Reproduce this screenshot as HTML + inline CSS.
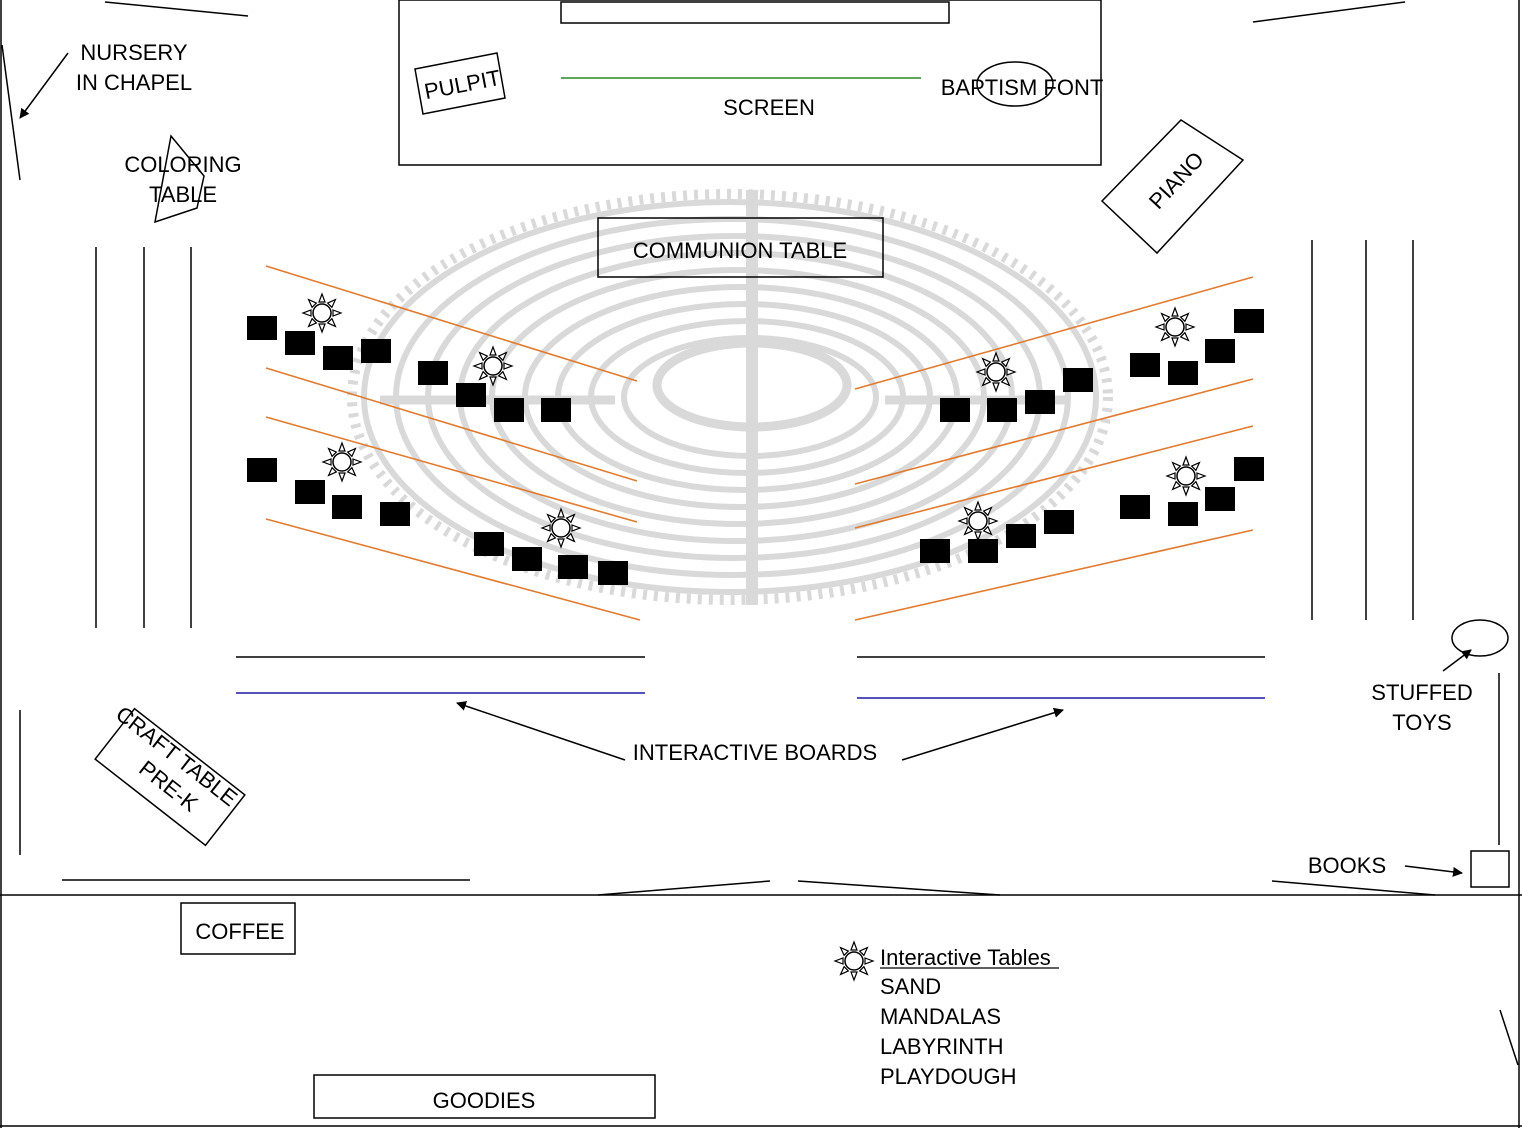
<!DOCTYPE html>
<html><head><meta charset="utf-8"><style>
html,body{margin:0;padding:0;background:#fff}
svg{display:block}
text{font-family:"Liberation Sans",sans-serif;font-size:22px;fill:#000}
</style></head><body>
<svg width="1522" height="1128" viewBox="0 0 1522 1128" xmlns="http://www.w3.org/2000/svg">
<defs>
<marker id="ah" markerWidth="10" markerHeight="10" refX="9" refY="5" orient="auto" markerUnits="userSpaceOnUse"><path d="M0,0 L10,5 L0,10 Z" fill="#000"/></marker>
<g id="sun">
<circle r="9" fill="#fff" stroke="#000" stroke-width="1.5"/>
<g fill="#fff" stroke="#000" stroke-width="1.2">
<path d="M-3,-11 L0,-19 L3,-11 Z"/><path d="M-3,-11 L0,-19 L3,-11 Z" transform="rotate(45)"/>
<path d="M-3,-11 L0,-19 L3,-11 Z" transform="rotate(90)"/><path d="M-3,-11 L0,-19 L3,-11 Z" transform="rotate(135)"/>
<path d="M-3,-11 L0,-19 L3,-11 Z" transform="rotate(180)"/><path d="M-3,-11 L0,-19 L3,-11 Z" transform="rotate(225)"/>
<path d="M-3,-11 L0,-19 L3,-11 Z" transform="rotate(270)"/><path d="M-3,-11 L0,-19 L3,-11 Z" transform="rotate(315)"/>
</g></g>
</defs>
<!-- labyrinth -->
<g fill="none" stroke="#d9d9d9">
<ellipse cx="730" cy="397" rx="378" ry="203" stroke-width="10" stroke-dasharray="4 7"/>
<ellipse cx="730" cy="397" rx="366" ry="195" stroke-width="6"/>
<ellipse cx="732" cy="397" rx="336" ry="178" stroke-width="6"/>
<ellipse cx="734" cy="397" rx="306" ry="161" stroke-width="6"/>
<ellipse cx="736" cy="397" rx="276" ry="144" stroke-width="6"/>
<ellipse cx="738" cy="397" rx="246" ry="127" stroke-width="6"/>
<ellipse cx="741" cy="397" rx="216" ry="110" stroke-width="6"/>
<ellipse cx="744" cy="397" rx="186" ry="93" stroke-width="6"/>
<ellipse cx="747" cy="397" rx="156" ry="76" stroke-width="6"/>
<ellipse cx="750" cy="397" rx="126" ry="59" stroke-width="6"/>
<ellipse cx="752" cy="385" rx="95" ry="42" stroke-width="9"/>
<line x1="752" y1="190" x2="752" y2="605" stroke-width="12"/>
<line x1="380" y1="400" x2="615" y2="400" stroke-width="9"/>
<line x1="885" y1="400" x2="1070" y2="400" stroke-width="9"/>
</g>
<!-- room outline -->
<g stroke="#000" stroke-width="1.5" fill="none">
<line x1="1" y1="0" x2="1" y2="1128"/>
<line x1="1519" y1="0" x2="1519" y2="1128"/>
<line x1="0" y1="1126" x2="1522" y2="1126"/>
<line x1="0" y1="895" x2="1522" y2="895"/>
<line x1="105" y1="2" x2="248" y2="16"/>
<line x1="1253" y1="22" x2="1405" y2="2"/>
<line x1="2" y1="45" x2="20" y2="180"/>
<rect x="399" y="0" width="702" height="165"/>
<rect x="561" y="2" width="388" height="21"/>
<polygon points="415,69 497,53 505,98 423,114"/>
<ellipse cx="1015" cy="84" rx="38" ry="22"/>
<polygon points="1181,120 1243,160 1157,253 1102,201"/>
<rect x="598" y="218" width="285" height="59"/>
<polygon points="171,136 204,176 197,208 155,222"/>
<line x1="96" y1="247" x2="96" y2="628"/><line x1="144" y1="247" x2="144" y2="628"/><line x1="191" y1="247" x2="191" y2="628"/>
<line x1="1312" y1="240" x2="1312" y2="620"/><line x1="1366" y1="240" x2="1366" y2="620"/><line x1="1413" y1="240" x2="1413" y2="620"/>
<line x1="236" y1="657" x2="645" y2="657"/>
<line x1="857" y1="657" x2="1265" y2="657"/>
<line x1="20" y1="710" x2="20" y2="855"/>
<line x1="62" y1="880" x2="470" y2="880"/>
<line x1="598" y1="895" x2="770" y2="881"/>
<line x1="798" y1="881" x2="1000" y2="895"/>
<line x1="1272" y1="881" x2="1435" y2="895"/>
<ellipse cx="1480" cy="638" rx="28" ry="18"/>
<line x1="1499" y1="673" x2="1499" y2="845"/>
<rect x="1471" y="851" width="38" height="36"/>
<rect x="181" y="903" width="114" height="51"/>
<rect x="314" y="1075" width="341" height="43"/>
<line x1="1500" y1="1010" x2="1518" y2="1065"/>
<g transform="translate(170,777) rotate(38)"><rect x="-70" y="-32" width="140" height="64"/></g>
<line x1="68" y1="53" x2="20" y2="118" marker-end="url(#ah)"/>
<line x1="625" y1="760" x2="457" y2="703" marker-end="url(#ah)"/>
<line x1="902" y1="760" x2="1063" y2="710" marker-end="url(#ah)"/>
<line x1="1443" y1="671" x2="1471" y2="650" marker-end="url(#ah)"/>
<line x1="1405" y1="866" x2="1462" y2="873" marker-end="url(#ah)"/>
</g>
<line x1="561" y1="78" x2="921" y2="78" stroke="#2a8a2a" stroke-width="1.5"/>
<line x1="236" y1="693" x2="645" y2="693" stroke="#1a1aa0" stroke-width="1.5"/>
<line x1="857" y1="698" x2="1265" y2="698" stroke="#1a1aa0" stroke-width="1.5"/>
<g stroke="#e07b30" stroke-width="1.6">
<line x1="266" y1="266" x2="637" y2="381"/><line x1="266" y1="368" x2="637" y2="481"/>
<line x1="266" y1="417" x2="637" y2="522"/><line x1="266" y1="519" x2="640" y2="620"/>
<line x1="855" y1="389" x2="1253" y2="277"/><line x1="855" y1="484" x2="1253" y2="379"/>
<line x1="855" y1="528" x2="1253" y2="426"/><line x1="855" y1="620" x2="1253" y2="530"/>
</g>
<g fill="#000">
<rect x="247" y="316" width="30" height="24"/><rect x="285" y="331" width="30" height="24"/><rect x="323" y="346" width="30" height="24"/><rect x="361" y="339" width="30" height="24"/>
<rect x="418" y="361" width="30" height="24"/><rect x="456" y="383" width="30" height="24"/><rect x="494" y="398" width="30" height="24"/><rect x="541" y="398" width="30" height="24"/>
<rect x="247" y="458" width="30" height="24"/><rect x="295" y="480" width="30" height="24"/><rect x="332" y="495" width="30" height="24"/><rect x="380" y="502" width="30" height="24"/>
<rect x="474" y="532" width="30" height="24"/><rect x="512" y="547" width="30" height="24"/><rect x="558" y="555" width="30" height="24"/><rect x="598" y="561" width="30" height="24"/>
<rect x="940" y="398" width="30" height="24"/><rect x="987" y="398" width="30" height="24"/><rect x="1025" y="390" width="30" height="24"/><rect x="1063" y="368" width="30" height="24"/>
<rect x="1130" y="353" width="30" height="24"/><rect x="1168" y="361" width="30" height="24"/><rect x="1205" y="339" width="30" height="24"/><rect x="1234" y="309" width="30" height="24"/>
<rect x="920" y="539" width="30" height="24"/><rect x="968" y="539" width="30" height="24"/><rect x="1006" y="524" width="30" height="24"/><rect x="1044" y="510" width="30" height="24"/>
<rect x="1120" y="495" width="30" height="24"/><rect x="1168" y="502" width="30" height="24"/><rect x="1205" y="487" width="30" height="24"/><rect x="1234" y="457" width="30" height="24"/>
</g>
<use href="#sun" x="322" y="313"/><use href="#sun" x="493" y="366"/><use href="#sun" x="342" y="462"/><use href="#sun" x="561" y="528"/>
<use href="#sun" x="996" y="372"/><use href="#sun" x="1175" y="327"/><use href="#sun" x="978" y="521"/><use href="#sun" x="1186" y="476"/>
<use href="#sun" x="854" y="961"/>
<text x="134" y="60" text-anchor="middle">NURSERY</text>
<text x="134" y="90" text-anchor="middle">IN CHAPEL</text>
<text x="183" y="172" text-anchor="middle">COLORING</text>
<text x="183" y="202" text-anchor="middle">TABLE</text>
<text x="463" y="92" text-anchor="middle" font-size="19" transform="rotate(-11 463 88)">PULPIT</text>
<text x="769" y="115" text-anchor="middle">SCREEN</text>
<text x="1022" y="95" text-anchor="middle">BAPTISM FONT</text>
<text x="1176" y="188" text-anchor="middle" transform="rotate(-47 1176 180)">PIANO</text>
<text x="740" y="258" text-anchor="middle">COMMUNION TABLE</text>
<text x="755" y="760" text-anchor="middle">INTERACTIVE BOARDS</text>
<text x="1422" y="700" text-anchor="middle">STUFFED</text>
<text x="1422" y="730" text-anchor="middle">TOYS</text>
<text x="1347" y="873" text-anchor="middle">BOOKS</text>
<text x="172" y="762" text-anchor="middle" transform="rotate(38 172 762)">CRAFT TABLE</text>
<text x="164" y="792" text-anchor="middle" transform="rotate(38 164 792)">PRE-K</text>
<text x="240" y="939" text-anchor="middle">COFFEE</text>
<text x="484" y="1108" text-anchor="middle">GOODIES</text>
<text x="880" y="965">Interactive Tables</text>
<line x1="880" y1="968" x2="1059" y2="968" stroke="#000" stroke-width="1.2"/>
<text x="880" y="994">SAND</text>
<text x="880" y="1024">MANDALAS</text>
<text x="880" y="1054">LABYRINTH</text>
<text x="880" y="1084">PLAYDOUGH</text>
</svg>
</body></html>
